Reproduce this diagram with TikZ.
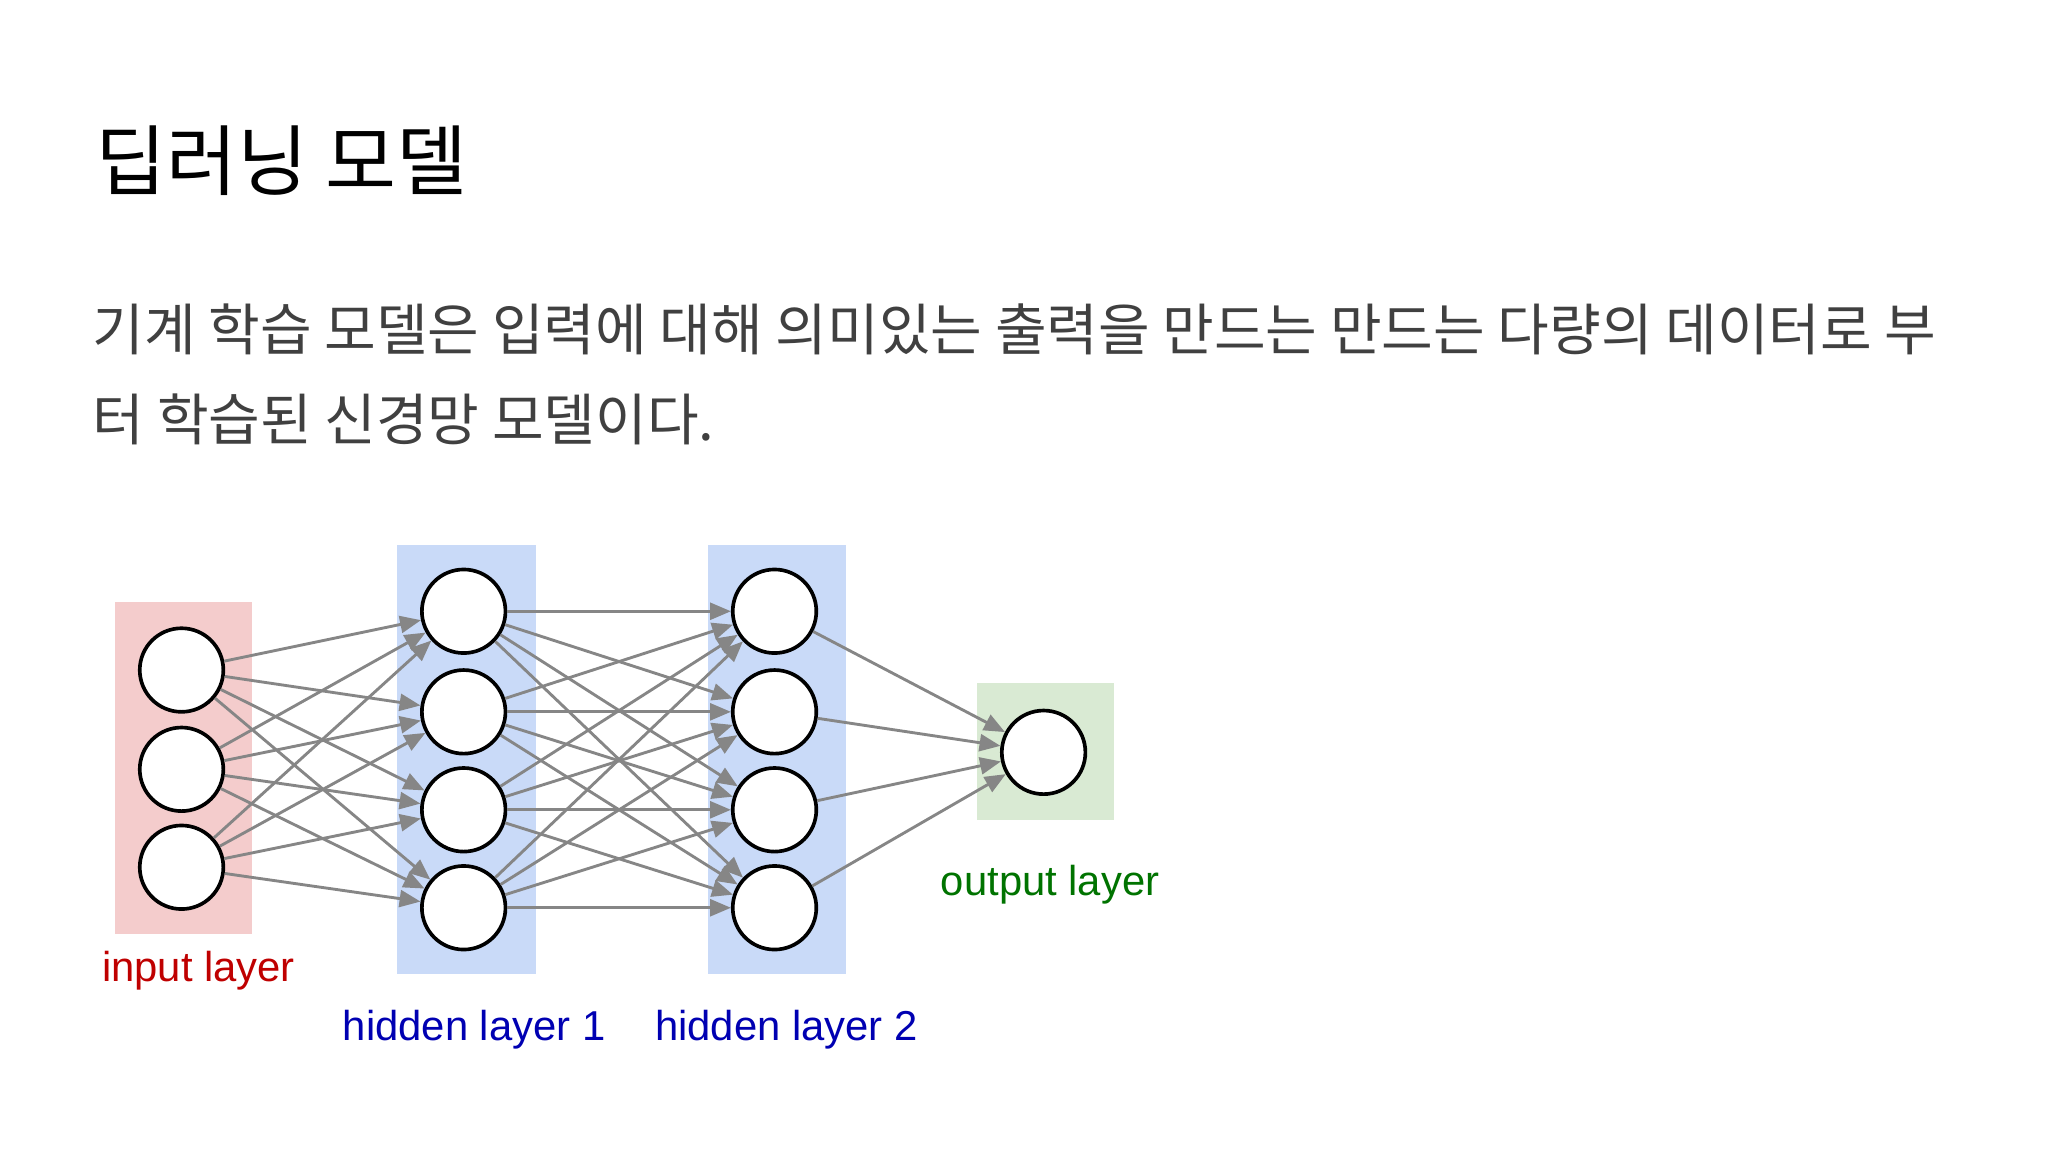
\documentclass[tikz,border=0pt]{standalone}
\usepackage{fontspec}
\setmainfont{Liberation Sans}
\newfontfamily\kr{Noto Sans CJK KR}
\usetikzlibrary{arrows.meta}
\definecolor{hidbg}{HTML}{C9DAF8}
\definecolor{inbg}{HTML}{F4CCCC}
\definecolor{outbg}{HTML}{D9EAD3}
\begin{document}
\begin{tikzpicture}[x=0.5pt,y=-0.5pt,
  neuron/.style={circle,draw=black,line width=1.4pt,fill=white,minimum size=32pt,inner sep=0pt},
  edge/.style={draw=gray!95,line width=1.1pt,-{Triangle[length=8pt,width=6.5pt]}},
  lbl/.style={font=\fontsize{16}{19}\selectfont}]
\useasboundingbox (0,0) rectangle (1568,882);
\node[anchor=west,font=\kr\fontsize{29.5}{36}\selectfont] (title) at (66,123) {딥러닝 모델};
\node[anchor=base west,font=\kr\fontsize{21.5}{24}\selectfont,text=black!75] (l1) at (64,268) {기계 학습 모델은 입력에 대해 의미있는 출력을 만드는 만드는 다량의 데이터로 부};
\node[anchor=base west,font=\kr\fontsize{21.5}{24}\selectfont,text=black!75] (l2) at (64,337) {터 학습된 신경망 모델이다.};
\fill[inbg] (88,461) rectangle (193,715);
\fill[hidbg] (304,417) rectangle (410,746);
\fill[hidbg] (542,417) rectangle (648,746);
\fill[outbg] (748,523) rectangle (853,628);
\foreach \i/\y in {1/513,2/589,3/664} \node[neuron] (i\i) at (139,\y) {};
\foreach \i/\y in {1/468,2/545,3/620,4/695} {\node[neuron] (a\i) at (355,\y) {}; \node[neuron] (b\i) at (593,\y) {};}
\node[neuron] (o) at (799,576) {};
\foreach \i in {1,2,3} \foreach \j in {1,...,4} \draw[edge] (i\i) -- (a\j);
\foreach \i in {1,...,4} \foreach \j in {1,...,4} \draw[edge] (a\i) -- (b\j);
\foreach \i in {1,...,4} \draw[edge] (b\i) -- (o);
\node[lbl,text=red!75!black] (li) at (152,743) {input layer};
\node[lbl,text=blue!70!black] (lh1) at (363,788) {hidden layer 1};
\node[lbl,text=blue!70!black] (lh2) at (602,788) {hidden layer 2};
\node[lbl,text=green!45!black] (lo) at (804,677) {output layer};
\end{tikzpicture}
\end{document}
